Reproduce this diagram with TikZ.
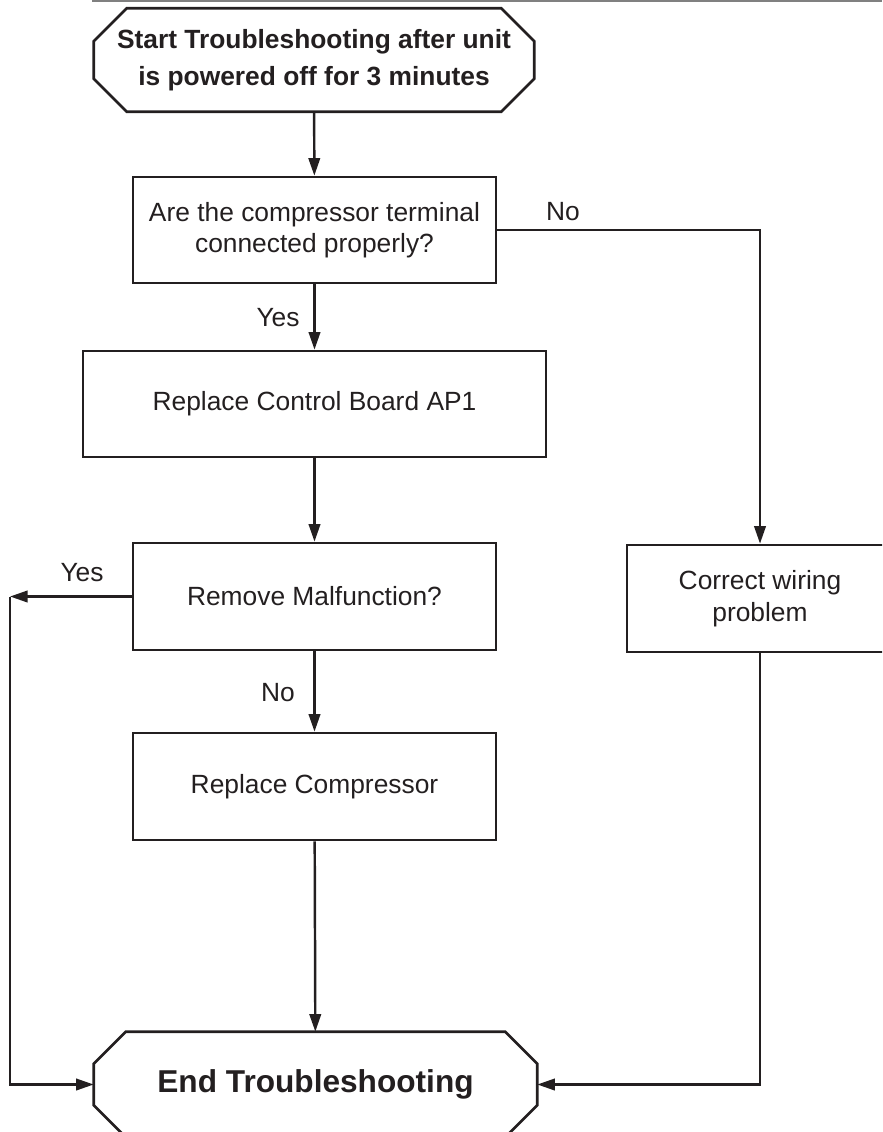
\documentclass[tikz,border=0pt]{standalone}
\usepackage{fontspec}
\setmainfont{Liberation Sans}
\usetikzlibrary{arrows.meta,calc}
\definecolor{ink}{RGB}{35,31,32}
\definecolor{rulegray}{RGB}{128,128,128}
\tikzset{
  box/.style={draw=ink,line width=1.5pt,rectangle,align=center,inner sep=0,
    text=ink,font=\fontsize{15}{18}\selectfont},
  term/.style={rectangle,line width=1.5pt,inner sep=0,align=center,text=ink},
  edge/.style={draw=ink,line width=1.5pt,line join=miter},
  arr/.style={draw=ink,line width=1.4pt,-{Triangle[length=10pt,width=6.5pt]}},
  lbl/.style={inner sep=0,text=ink,font=\fontsize{15}{18}\selectfont},
}
% contour octogonal autour d'un noeud (#1 = nom, #2 = pan coupe)
\newcommand{\octo}[2]{%
  \draw[edge] ($(#1.north west)+(#2,0)$) -- ($(#1.north east)+(-#2,0)$)
    -- ($(#1.north east)+(0,#2)$) -- ($(#1.south east)+(0,-#2)$)
    -- ($(#1.south east)+(-#2,0)$) -- ($(#1.south west)+(#2,0)$)
    -- ($(#1.south west)+(0,-#2)$) -- ($(#1.north west)+(0,#2)$) -- cycle;}

\begin{document}
\begin{tikzpicture}[x=0.02cm,y=-0.02cm]
  % --- Cadre (pixels de la page) ---
  \clip (0,0) rectangle (882,1132);
  \draw[rulegray,line width=1.2pt] (92,1) -- (882,1);

  % --- Blocs ---
  \node[term,minimum width=8.76cm,minimum height=2.02cm,
    font=\bfseries\fontsize{15}{21}\selectfont] (start) at (314,60)
    {Start Troubleshooting after unit\\is powered off for 3 minutes};
  \octo{start}{33}
  \node[box,minimum width=7.26cm,minimum height=2.12cm] (ask) at (314.5,230)
    {Are the compressor terminal\\connected properly?};
  \node[box,minimum width=9.26cm,minimum height=2.12cm] (board) at (314.5,404)
    {Replace Control Board AP1};
  \node[box,minimum width=7.26cm,minimum height=2.14cm] (malf) at (314.5,596.5)
    {Remove Malfunction?};
  \node[box,minimum width=7.26cm,minimum height=2.14cm] (comp) at (314.5,786.5)
    {Replace Compressor};
  \node[box,minimum width=5.32cm,minimum height=2.14cm] (wiring) at (760,598.5)
    {Correct wiring\\problem};
  \node[term,minimum width=8.82cm,minimum height=2.06cm,
    font=\bfseries\fontsize{18}{22}\selectfont] (fin) at (315.5,1084.5)
    {End Troubleshooting};
  \octo{fin}{32}

  % --- Etiquettes ---
  \node[lbl] (yes1) at (278,318) {Yes};
  \node[lbl] (no1) at (563,212) {No};
  \node[lbl] (yes2) at (82,573) {Yes};
  \node[lbl] (no2) at (278,693) {No};

  % --- Liaisons ---
  \coordinate (lc) at (10,596.5);
  \draw[arr] (start) -- (ask);
  \draw[arr] (ask) -- (board);
  \draw[arr] (ask.east) -| (wiring.north);
  \draw[arr] (board) -- (malf);
  \draw[arr] (malf) -- (comp);
  \draw[arr] (malf.west) -- (lc);
  \draw[arr] (lc) |- (fin.west);
  \draw[arr] (comp) -- (fin);
  \draw[arr] (wiring.south) |- (fin.east);
\end{tikzpicture}
\end{document}
